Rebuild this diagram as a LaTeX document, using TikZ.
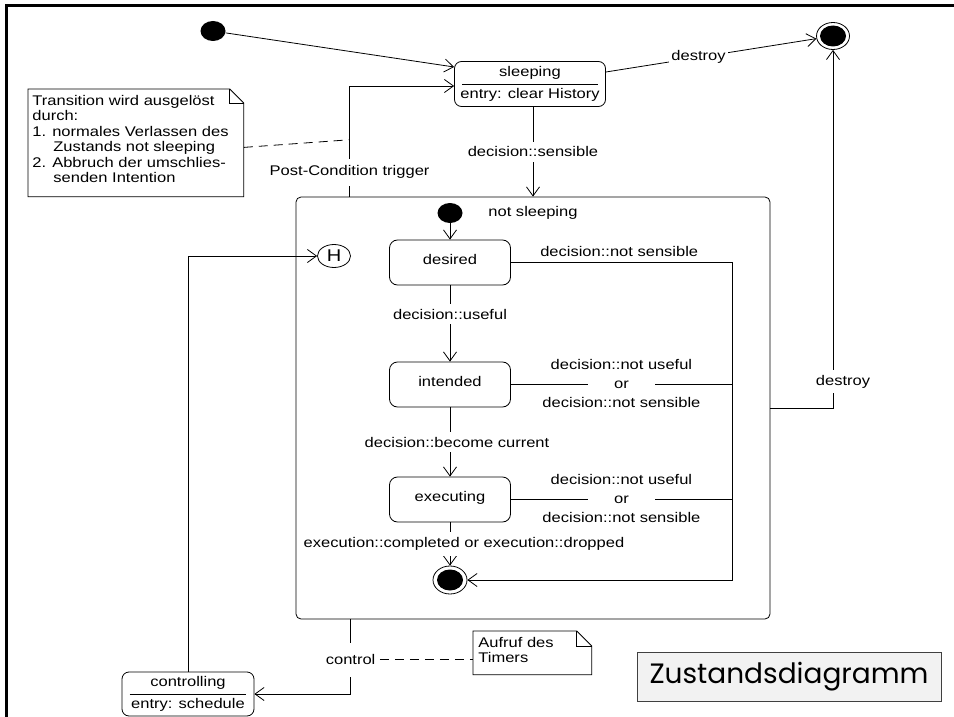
\documentclass[tikz,border=0pt]{standalone}
\usepackage{fontspec}
\setmainfont{Liberation Sans}[FakeStretch=1.18]
\newfontfamily\titlefont{Poppins}
\usetikzlibrary{arrows.meta,shapes.geometric,calc}

\begin{document}
\begin{tikzpicture}[x=1pt,y=-1pt,
  font=\fontsize{14}{16}\selectfont,
  line width=0.8pt,
  every node/.style={inner sep=0pt},
  trans/.style={draw, -{Straight Barb[length=9pt,width=13pt,line width=0.8pt]}},
  state/.style={draw, rounded corners=8pt, minimum width=121pt, minimum height=45pt},
  splitstate/.style={draw, rounded corners=7pt, align=center,
    font=\fontsize{14}{22}\selectfont},
  start/.style={ellipse, fill, minimum width=25pt, minimum height=20pt},
  finish/.style={ellipse, draw, minimum width=34pt, minimum height=28pt,
    path picture={\fill (path picture bounding box.center)
      ellipse [x radius=13pt, y radius=10.5pt];}},
  lbl/.style={fill=white, inner xsep=2pt, inner ysep=5pt},
  orlbl/.style={fill=white, inner xsep=26pt, inner ysep=1pt,
    label={[label distance=9pt]above:decision::not useful},
    label={[label distance=7pt]below:decision::not sensible}},
  notebox/.style={anchor=north west},
  notetext/.style={align=left, anchor=north west,
    font=\fontsize{14}{15.4}\selectfont},
  notedash/.style={draw, dash pattern=on 9pt off 6pt}
]
\useasboundingbox (0,0) rectangle (954,717);

% frame
\draw[line width=3pt] (6,717) -- (6,5.5) -- (954,5.5);

% top level states
\node[start] (init) at (213,31) {};
\node[finish, minimum width=33pt, minimum height=27pt] (endtop) at (833,36) {};
\node[splitstate, minimum width=151pt, minimum height=45pt] (sleeping) at (530,84)
  {sleeping\\entry: clear History};
\draw ([xshift=8pt]sleeping.west) -- ([xshift=-8pt]sleeping.east);

\node[splitstate, minimum width=132pt, minimum height=44pt] (controlling) at (188,694)
  {controlling\\entry: schedule};
\draw ([xshift=8pt]controlling.west) -- ([xshift=-8pt]controlling.east);

% composite state
\node[draw, rounded corners=5pt, minimum width=474pt, minimum height=422pt]
  (ns) at (533,408) {};
\node (nslabel) at (533,213) {not sleeping};
\node[draw, ellipse, minimum width=33pt, minimum height=23pt,
  font=\fontsize{17}{17}\selectfont] (hist) at (334,256) {H};

\node[start] (initin) at (450,213) {};
\node[state] (desired) at (450,262.5) {\raisebox{6pt}{desired}};
\node[state] (intended) at (450,384.5) {\raisebox{6pt}{intended}};
\node[state] (executing) at (450,499.5) {\raisebox{6pt}{executing}};
\node[finish] (endin) at (450,580) {};
\coordinate (rj) at (732,580);

% notes
\node[notebox, minimum width=215pt, minimum height=107pt] (note1) at (28,89) {};
\draw (note1.north west) -- ([xshift=-14pt]note1.north east)
  -- ([yshift=-14pt]note1.north east) -- (note1.south east)
  -- (note1.south west) -- cycle;
\draw ([xshift=-14pt]note1.north east) -- ++(0,14) -- ([yshift=-14pt]note1.north east);
\node[notetext] (note1text) at (32,95)
  {Transition wird ausgelöst\\durch:\\1. normales Verlassen des\\
   \hspace*{21pt}Zustands not sleeping\\2. Abbruch der umschlies-\\
   \hspace*{21pt}senden Intention};

\node[notebox, minimum width=118pt, minimum height=43pt] (note2) at (473,631) {};
\draw (note2.north west) -- ([xshift=-15pt]note2.north east)
  -- ([yshift=-15pt]note2.north east) -- (note2.south east)
  -- (note2.south west) -- cycle;
\draw ([xshift=-15pt]note2.north east) -- ++(0,15) -- ([yshift=-15pt]note2.north east);
\node[notetext] (note2text) at (478,637) {Aufruf des\\Timers};

% title
\node[draw=black!75, fill=black!5, minimum width=304pt, minimum height=49pt,
  font=\titlefont\fontsize{28}{28}\selectfont] (title) at (789,676.5) {Zustandsdiagramm};

% transitions
\path[trans] (init) -- ([yshift=17pt]sleeping.west);
\path[trans] ([yshift=12pt]sleeping.east) --
  node[lbl, pos=0.44] {destroy} (endtop);
\path[trans] ([xshift=3pt]sleeping.south) --
  node[lbl] {decision::sensible} ([xshift=3pt]sleeping.south |- ns.north);
\path[trans] ([xshift=54pt]ns.north west) |-
  node[lbl, pos=0.11, inner ysep=7pt] {Post-Condition trigger}
  coordinate[pos=0.257] (pc)
  ([yshift=-2pt]sleeping.west);
\path[notedash] ([yshift=-4.5pt]note1.east) -- (pc);

\path[trans] (ns.east) -| node[lbl, pos=0.537, xshift=10pt] {destroy} (endtop);

\path[trans] ([xshift=55pt]ns.south west) |-
  node[lbl, pos=0.27, inner ysep=12pt] (ctl) {control} (controlling.east);
\path[notedash] ([xshift=2pt]ctl.east) -- (note2.west |- ctl);
\path[trans] (controlling.north) |- (hist);

\path[trans] (initin) -- (desired);
\path[trans] (desired) -- node[lbl, pos=0.38] {decision::useful} (intended);
\path[trans] (intended) --
  node[lbl, xshift=7pt] {decision::become current} (executing);
\path[trans] (executing) --
  node[lbl, xshift=14pt] {execution::completed or execution::dropped} (endin);

\path[trans] (desired.east) -|
  node[pos=0.245, above=5pt] {decision::not sensible} (rj) -- (endin);
\draw (intended.east) -- node[orlbl] {or} (intended.east -| rj);
\draw (executing.east) -- node[orlbl] {or} (executing.east -| rj);
\end{tikzpicture}
\end{document}
